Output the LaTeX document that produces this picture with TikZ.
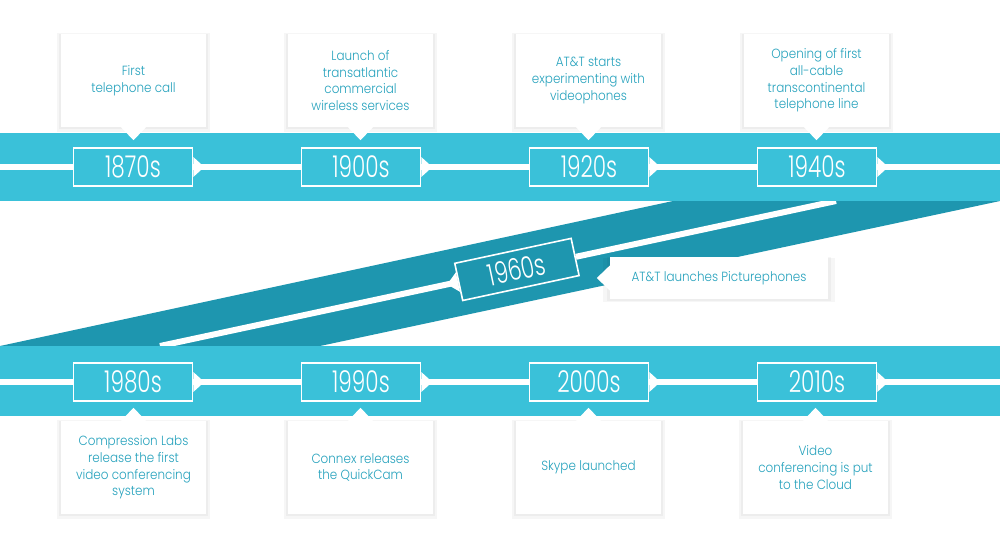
\documentclass[tikz,border=0pt]{standalone}
\usepackage{fontspec}
\setmainfont{Poppins}
\newfontfamily\yearfont[FakeStretch=0.72]{Poppins Light}
\newfontfamily\notefont[FakeStretch=0.9]{Poppins Light}
\usetikzlibrary{calc,shadows}

\definecolor{bandlight}{HTML}{3AC1D9}
\definecolor{banddark}{HTML}{1E96AF}
\definecolor{notetext}{HTML}{26A2BD}

\tikzset{
    yearbox/.style={draw=white, line width=1.6pt, fill=bandlight, minimum width=119pt, minimum height=38pt,
        inner sep=0pt, text=white, font=\yearfont\fontsize{30}{30}\selectfont},
    darkbox/.style={yearbox, fill=banddark},
    tline/.style={white, line width=6pt},
    callout/.style={fill=white, minimum width=145pt, minimum height=93pt, inner sep=2pt, align=center,
        text=notetext, font=\notefont\fontsize{13.3}{16.7}\selectfont,
        general shadow={fill=black, opacity=0.035, shadow xshift=0pt, shadow yshift=-2pt, shadow scale=1.06},
        general shadow={fill=black, opacity=0.035, shadow xshift=0pt, shadow yshift=-1pt, shadow scale=1.03}},
    wideout/.style={callout, minimum width=218pt, minimum height=42pt}
}

\begin{document}
\begin{tikzpicture}[x=1pt,y=1pt,yscale=-1]
    \useasboundingbox (0,0) rectangle (1000,550);
    \fill[white] (0,0) rectangle (1000,550);

    % Line ends
    \coordinate (t0) at (0,167);
    \coordinate (t1) at (1000,167);
    \coordinate (b0) at (0,382);
    \coordinate (b1) at (1000,382);
    \coordinate (d0) at (160,346);
    \coordinate (d1) at (836,201);

    %Shape: diagonal band
    \fill[banddark] (0,346) -- (673,201) -- (1000,201) -- (320,346) -- cycle;
    \node[darkbox, rotate=12.1] (y1960) at ($(d0)!0.528!(d1)$) {1960s};
    \draw[tline] (d1) -- (y1960) -- (d0);

    %Shape: top band
    \fill[bandlight] (0,133) rectangle (1000,201);
    %Shape: bottom band
    \fill[bandlight] (0,346) rectangle (1000,416);

    % Year boxes
    \node[yearbox] (y1870) at (133,167) {1870s};
    \node[yearbox] (y1900) at (361,167) {1900s};
    \node[yearbox] (y1920) at (589,167) {1920s};
    \node[yearbox] (y1940) at (817,167) {1940s};
    \node[yearbox] (y1980) at (133,382) {1980s};
    \node[yearbox] (y1990) at (361,382) {1990s};
    \node[yearbox] (y2000) at (589,382) {2000s};
    \node[yearbox] (y2010) at (817,382) {2010s};

    % Timelines
    \draw[tline] (t0) -- (y1870) -- (y1900) -- (y1920) -- (y1940) -- (t1);
    \draw[tline] (b0) -- (y1980) -- (y1990) -- (y2000) -- (y2010) -- (b1);

    % Arrow heads on the year boxes
    \foreach \n/\s/\o in {y1870/east/west, y1900/east/west, y1920/east/west, y1940/east/west,
        y1960/west/east, y1980/east/west, y1990/east/west, y2000/east/west, y2010/east/west}
        \fill[white] ($(\n.\s)!10pt!90:(\n.\o)$) -- ($(\n.\s)!-11pt!(\n.\o)$) -- ($(\n.\s)!10pt!-90:(\n.\o)$) -- cycle;

    % Text Node
    \node[callout] (c1870) at (133.5,80.5) {First\\telephone call};
    \node[callout] (c1900) at (360.5,80.5) {Launch of\\transatlantic\\commercial\\wireless services};
    \node[callout] (c1920) at (588.5,80.5) {AT\&T starts\\experimenting with\\videophones};
    \node[callout] (c1940) at (816.5,80.5) {Opening of first\\all-cable\\transcontinental\\telephone line};
    \node[wideout] (c1960) at (719,278) {AT\&T launches Picturephones};
    \node[callout] (c1980) at (133.5,467.5) {Compression Labs\\release the first\\video conferencing\\system};
    \node[callout] (c1990) at (360.5,467.5) {Connex releases\\the QuickCam};
    \node[callout] (c2000) at (588.5,467.5) {Skype launched};
    \node[callout] (c2010) at (815.5,467.5) {Video\\conferencing is put\\to the Cloud};

    % Pointers of the callouts
    \foreach \c/\s/\o in {c1870/south/north, c1900/south/north, c1920/south/north, c1940/south/north,
        c1960/west/east, c1980/north/south, c1990/north/south, c2000/north/south, c2010/north/south}
        \fill[white] ($(\c.\s)!12.5pt!90:(\c.\o)$) -- ($(\c.\s)!-13pt!(\c.\o)$) -- ($(\c.\s)!12.5pt!-90:(\c.\o)$) -- cycle;

\end{tikzpicture}
\end{document}
